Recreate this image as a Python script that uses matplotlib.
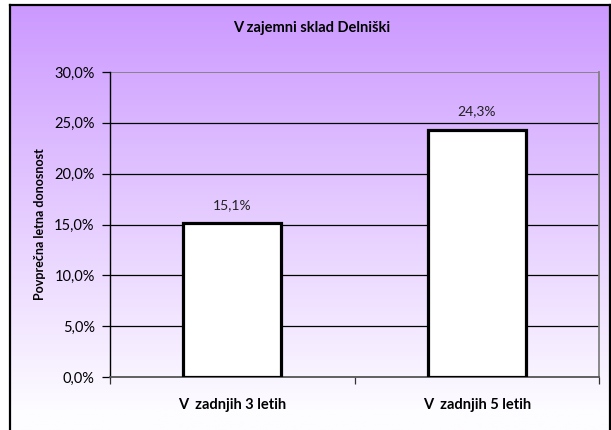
import numpy as np
import matplotlib
matplotlib.use("Agg")
import matplotlib.pyplot as plt
from matplotlib.ticker import FuncFormatter

plt.rcParams["font.family"] = ["Lato", "DejaVu Sans"]

categories = ["V  zadnjih 3 letih", "V  zadnjih 5 letih"]
values = [15.1, 24.3]
value_labels = ["15,1%", "24,3%"]
yticks = [0, 5, 10, 15, 20, 25, 30]

W, H = 611, 430
fig = plt.figure(figsize=(W / 100, H / 100), dpi=100)
fig.patch.set_facecolor("white")

# background panel with purple -> white gradient
bg = fig.add_axes([10 / W, 0, 600 / W, 425 / H])
top = np.array([204, 153, 255]) / 255
bot = np.array([253, 252, 255]) / 255
t = np.linspace(0, 1, 256)[:, None]
grad = top + (bot - top) * np.clip(t * 1.05, 0, 1)[..., None]
grad = np.repeat(grad, 2, axis=1)
bg.imshow(grad, aspect="auto", extent=[0, 1, 0, 1], origin="upper")
bg.set_xticks([])
bg.set_yticks([])
for side in ["left", "right", "top"]:
    bg.spines[side].set_linewidth(1.6)
    bg.spines[side].set_color("black")
bg.spines["bottom"].set_visible(False)

# main plot area
ax = fig.add_axes([110 / W, (H - 377) / H, (599 - 110) / W, (377 - 72) / H])
ax.patch.set_alpha(0)
x = np.arange(len(categories))
bars = ax.bar(x, values, width=0.4, color="white", edgecolor="black", linewidth=2.3, zorder=3)

for xi, v, lab in zip(x, values, value_labels):
    ax.annotate(lab, (xi, v), xytext=(0, 9), textcoords="offset points",
                ha="center", va="bottom", fontsize=10, color="#222222")

ax.set_xlim(-0.5, 1.5)
ax.set_ylim(0, 30)
ax.set_yticks(yticks)
ax.yaxis.set_major_formatter(FuncFormatter(lambda v, p: f"{v:.1f}%".replace(".", ",")))
for yv in yticks[1:-1]:
    ax.axhline(yv, color="black", linewidth=0.9, zorder=1)
ax.axhline(30, color="#808080", linewidth=1.3, zorder=1)

ax.set_xticks(x)
ax.set_xticklabels(categories, fontweight="bold", fontsize=10.5)
ax.tick_params(axis="x", which="major", length=0, pad=15)
ax.set_xticks([-0.5, 0.5, 1.5], minor=True)
ax.tick_params(axis="x", which="minor", length=5, width=0.9, color="#333333")
ax.tick_params(axis="y", length=6, width=0.9, labelsize=10.5, pad=5)

ax.spines["left"].set_color("black")
ax.spines["left"].set_linewidth(1.0)
ax.spines["bottom"].set_color("#555555")
ax.spines["bottom"].set_linewidth(1.3)
ax.spines["right"].set_color("#808080")
ax.spines["right"].set_linewidth(1.3)
ax.spines["top"].set_visible(False)

fig.text(312 / W, 1 - 28 / H, "V zajemni sklad Delniški", ha="center", va="center",
         fontsize=10.5, fontweight="bold")
fig.text(40 / W, 1 - 224 / H, "Povprečna letna donosnost", ha="center", va="center",
         rotation=90, fontsize=9, fontweight="bold")

fig.savefig("out.png", dpi=100)
